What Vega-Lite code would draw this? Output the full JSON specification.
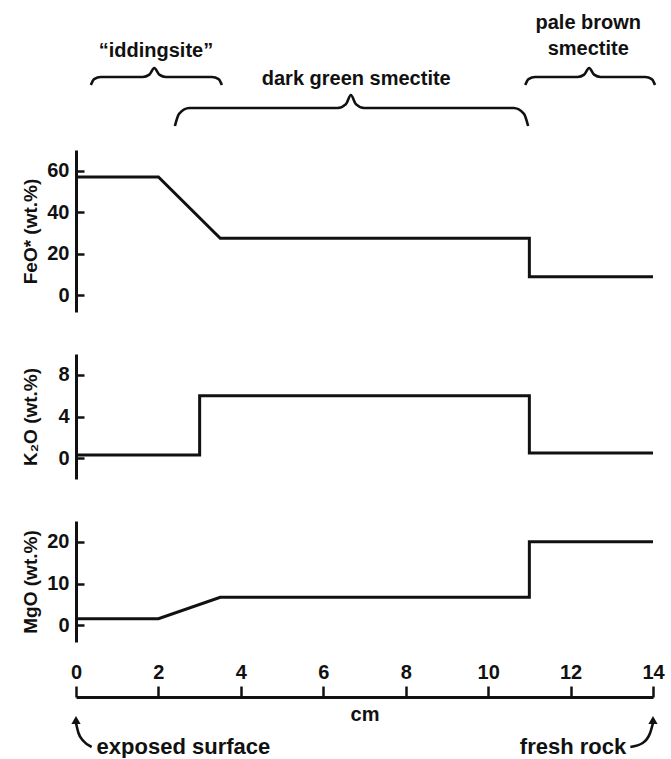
{
  "$schema": "https://vega.github.io/schema/vega-lite/v6.json",
  "padding": {"left": 20, "top": 10, "right": 5, "bottom": 0},
  "background": "white",
  "bounds": "flush",
  "spacing": 42,
  "datasets": {
    "profiles": [
      {"oxide": "FeO", "cm": 0, "wt": 57}, {"oxide": "FeO", "cm": 2, "wt": 57}, {"oxide": "FeO", "cm": 3.5, "wt": 27.5}, {"oxide": "FeO", "cm": 11, "wt": 27.5}, {"oxide": "FeO", "cm": 11, "wt": 9}, {"oxide": "FeO", "cm": 14, "wt": 9},
      {"oxide": "K2O", "cm": 0, "wt": 0.3}, {"oxide": "K2O", "cm": 3, "wt": 0.3}, {"oxide": "K2O", "cm": 3, "wt": 6}, {"oxide": "K2O", "cm": 11, "wt": 6}, {"oxide": "K2O", "cm": 11, "wt": 0.5}, {"oxide": "K2O", "cm": 14, "wt": 0.5},
      {"oxide": "MgO", "cm": 0, "wt": 1.6}, {"oxide": "MgO", "cm": 2, "wt": 1.6}, {"oxide": "MgO", "cm": 3.5, "wt": 6.7}, {"oxide": "MgO", "cm": 11, "wt": 6.7}, {"oxide": "MgO", "cm": 11, "wt": 20}, {"oxide": "MgO", "cm": 14, "wt": 20}
    ],
    "braces": [
      {"zone": "iddingsite", "cm": 0.36, "level": 7.65}, {"zone": "iddingsite", "cm": 0.44, "level": 7.05}, {"zone": "iddingsite", "cm": 0.6, "level": 6.84}, {"zone": "iddingsite", "cm": 1.62, "level": 6.84}, {"zone": "iddingsite", "cm": 1.78, "level": 6.6}, {"zone": "iddingsite", "cm": 1.9, "level": 5.92}, {"zone": "iddingsite", "cm": 2.02, "level": 6.6}, {"zone": "iddingsite", "cm": 2.18, "level": 6.84}, {"zone": "iddingsite", "cm": 3.3, "level": 6.84}, {"zone": "iddingsite", "cm": 3.46, "level": 7.05}, {"zone": "iddingsite", "cm": 3.54, "level": 7.65},
      {"zone": "dark green", "cm": 2.4, "level": 11.84}, {"zone": "dark green", "cm": 2.5, "level": 10.6}, {"zone": "dark green", "cm": 2.75, "level": 10.0}, {"zone": "dark green", "cm": 6.35, "level": 10.0}, {"zone": "dark green", "cm": 6.55, "level": 9.6}, {"zone": "dark green", "cm": 6.67, "level": 8.67}, {"zone": "dark green", "cm": 6.79, "level": 9.6}, {"zone": "dark green", "cm": 6.99, "level": 10.0}, {"zone": "dark green", "cm": 10.62, "level": 10.0}, {"zone": "dark green", "cm": 10.87, "level": 10.6}, {"zone": "dark green", "cm": 10.97, "level": 11.84},
      {"zone": "pale brown", "cm": 10.9, "level": 7.65}, {"zone": "pale brown", "cm": 10.98, "level": 7.05}, {"zone": "pale brown", "cm": 11.14, "level": 6.84}, {"zone": "pale brown", "cm": 12.17, "level": 6.84}, {"zone": "pale brown", "cm": 12.33, "level": 6.6}, {"zone": "pale brown", "cm": 12.45, "level": 5.92}, {"zone": "pale brown", "cm": 12.57, "level": 6.6}, {"zone": "pale brown", "cm": 12.73, "level": 6.84}, {"zone": "pale brown", "cm": 13.81, "level": 6.84}, {"zone": "pale brown", "cm": 13.97, "level": 7.05}, {"zone": "pale brown", "cm": 14.05, "level": 7.65}
    ],
    "zoneLabels": [
      {"text": "“iddingsite”", "cm": 1.94, "level": 4.2},
      {"text": "dark green smectite", "cm": 6.8, "level": 7.0},
      {"text": "pale brown", "cm": 12.43, "level": 1.33},
      {"text": "smectite", "cm": 12.43, "level": 3.95}
    ],
    "arrows": [
      {"side": "left", "cm": 0.0, "level": 3.9}, {"side": "left", "cm": 0.06, "level": 4.9}, {"side": "left", "cm": 0.18, "level": 5.7}, {"side": "left", "cm": 0.38, "level": 6.3},
      {"side": "right", "cm": 13.45, "level": 6.3}, {"side": "right", "cm": 13.75, "level": 5.9}, {"side": "right", "cm": 13.93, "level": 4.9}, {"side": "right", "cm": 14.0, "level": 3.9}
    ],
    "arrowTips": [
      {"side": "left", "cm": 0.0, "level": 3.6},
      {"side": "right", "cm": 14.0, "level": 3.6}
    ],
    "footLabels": [
      {"side": "left", "text": "exposed surface", "cm": 0.5, "level": 6.3},
      {"side": "right", "text": "fresh rock", "cm": 13.35, "level": 6.3}
    ]
  },
  "vconcat": [
    {
      "width": 577,
      "height": 98,
      "encoding": {
        "x": {"field": "cm", "type": "quantitative", "scale": {"domain": [0, 14]}, "axis": null},
        "y": {"field": "level", "type": "quantitative", "scale": {"domain": [0, 10], "reverse": true}, "axis": null}
      },
      "layer": [
        {
          "data": {"name": "braces"},
          "mark": {"type": "line", "interpolate": "monotone", "stroke": "#111", "strokeWidth": 2.6},
          "encoding": {"detail": {"field": "zone"}}
        },
        {
          "data": {"name": "zoneLabels"},
          "mark": {"type": "text", "font": "Liberation Sans", "fontWeight": "bold", "fontSize": 20, "fill": "#111", "baseline": "middle"},
          "encoding": {"text": {"field": "text"}}
        }
      ]
    },
    {
      "width": 577,
      "height": 162,
      "data": {"name": "profiles"},
      "transform": [{"filter": "datum.oxide === 'FeO'"}],
      "mark": {"type": "line", "stroke": "#111", "strokeWidth": 3, "strokeJoin": "miter"},
      "encoding": {
        "x": {"field": "cm", "type": "quantitative", "scale": {"domain": [0, 14]}, "axis": null},
        "y": {"field": "wt", "type": "quantitative", "scale": {"domain": [-8, 70]}, "axis": {"values": [0, 20, 40, 60], "title": "FeO* (wt.%)"}}
      }
    },
    {
      "width": 577,
      "height": 125,
      "data": {"name": "profiles"},
      "transform": [{"filter": "datum.oxide === 'K2O'"}],
      "mark": {"type": "line", "stroke": "#111", "strokeWidth": 3, "strokeJoin": "miter"},
      "encoding": {
        "x": {"field": "cm", "type": "quantitative", "scale": {"domain": [0, 14]}, "axis": null},
        "y": {"field": "wt", "type": "quantitative", "scale": {"domain": [-2, 10]}, "axis": {"values": [0, 4, 8], "title": "K₂O (wt.%)"}}
      }
    },
    {
      "width": 577,
      "height": 121,
      "data": {"name": "profiles"},
      "transform": [{"filter": "datum.oxide === 'MgO'"}],
      "mark": {"type": "line", "stroke": "#111", "strokeWidth": 3, "strokeJoin": "miter"},
      "encoding": {
        "x": {"field": "cm", "type": "quantitative", "scale": {"domain": [0, 14]}, "axis": null},
        "y": {"field": "wt", "type": "quantitative", "scale": {"domain": [-4, 25]}, "axis": {"values": [0, 10, 20], "title": "MgO (wt.%)"}}
      }
    },
    {
      "width": 577,
      "height": 70,
      "encoding": {
        "x": {"field": "cm", "type": "quantitative", "scale": {"domain": [0, 14]},
          "axis": {"orient": "top", "offset": -13, "values": [0, 2, 4, 6, 8, 10, 12, 14], "tickSize": 11, "tickWidth": 2.5, "tickColor": "#111", "domainWidth": 3, "domainColor": "#111", "labelPadding": 4, "labelFlush": false, "labelFont": "Liberation Sans", "labelFontSize": 20, "labelFontWeight": "bold", "labelColor": "#111", "title": "cm", "titleFont": "Liberation Sans", "titleFontSize": 20, "titleFontWeight": "bold", "titleColor": "#111", "titleY": 17, "titleBaseline": "middle", "grid": false}},
        "y": {"field": "level", "type": "quantitative", "scale": {"domain": [0, 7], "reverse": true}, "axis": null}
      },
      "layer": [
        {
          "data": {"name": "arrows"},
          "mark": {"type": "line", "interpolate": "monotone", "stroke": "#111", "strokeWidth": 2.6},
          "encoding": {"detail": {"field": "side"}}
        },
        {
          "data": {"name": "arrowTips"},
          "mark": {"type": "point", "shape": "triangle-up", "filled": true, "fill": "#111", "size": 85, "opacity": 1}
        },
        {
          "data": {"name": "footLabels"},
          "transform": [{"filter": "datum.side === 'left'"}],
          "mark": {"type": "text", "align": "left", "baseline": "middle", "font": "Liberation Sans", "fontWeight": "bold", "fontSize": 22, "fill": "#111"},
          "encoding": {"text": {"field": "text"}}
        },
        {
          "data": {"name": "footLabels"},
          "transform": [{"filter": "datum.side === 'right'"}],
          "mark": {"type": "text", "align": "right", "baseline": "middle", "font": "Liberation Sans", "fontWeight": "bold", "fontSize": 22, "fill": "#111"},
          "encoding": {"text": {"field": "text"}}
        }
      ]
    }
  ],
  "config": {
    "view": {"stroke": null},
    "axisY": {
      "domainColor": "#111", "domainWidth": 3,
      "tickColor": "#111", "tickWidth": 2.5, "tickSize": -8,
      "labelPadding": 15, "labelFont": "Liberation Sans", "labelFontSize": 20, "labelFontWeight": "bold", "labelColor": "#111",
      "grid": false,
      "titleFont": "Liberation Sans", "titleFontSize": 19, "titleFontWeight": "bold", "titleColor": "#111",
      "titleX": -46, "titleBaseline": "middle"
    }
  }
}
